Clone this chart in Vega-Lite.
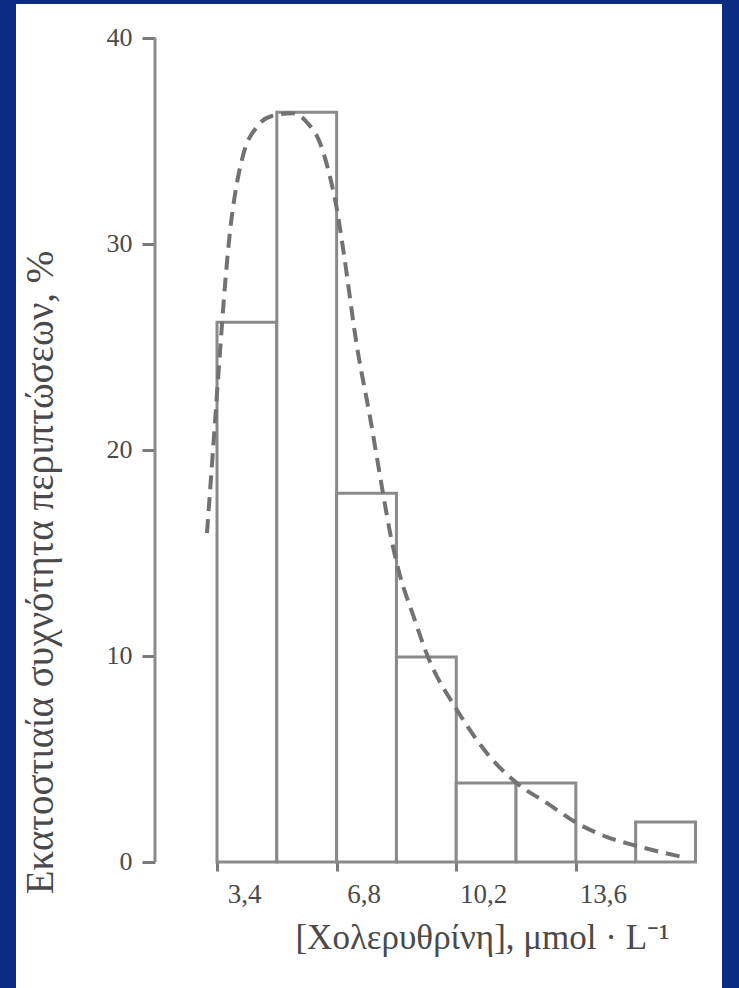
{
  "$schema": "https://vega.github.io/schema/vega-lite/v6.json",
  "width": 706,
  "height": 984,
  "autosize": {"type": "none"},
  "padding": {"left": 16, "top": 4, "right": 17, "bottom": 0},
  "background": "#0a2c82",
  "config": {
    "view": {"fill": "#ffffff", "stroke": null},
    "axis": {
      "labelFont": "Liberation Serif",
      "titleFont": "Liberation Serif",
      "labelColor": "#4a4a4a",
      "titleColor": "#4a4a4a",
      "titleFontWeight": "normal",
      "grid": false,
      "domain": false,
      "tickColor": "#7a7a7a",
      "tickWidth": 3,
      "labelOverlap": false,
      "labelFlush": false
    }
  },
  "datasets": {
    "bins": [
      {"lo": 3.4, "hi": 5.1, "pct": 26.2},
      {"lo": 5.1, "hi": 6.8, "pct": 36.4},
      {"lo": 6.8, "hi": 8.5, "pct": 17.9},
      {"lo": 8.5, "hi": 10.2, "pct": 9.95},
      {"lo": 10.2, "hi": 11.9, "pct": 3.83},
      {"lo": 11.9, "hi": 13.6, "pct": 3.83},
      {"lo": 13.6, "hi": 15.3, "pct": 0},
      {"lo": 15.3, "hi": 17.0, "pct": 1.94}
    ],
    "curve": [
      {"x": 3.115, "y": 15.97},
      {"x": 3.286, "y": 20.0},
      {"x": 3.457, "y": 24.1},
      {"x": 3.627, "y": 28.0},
      {"x": 3.769, "y": 30.6},
      {"x": 3.911, "y": 32.4},
      {"x": 4.139, "y": 34.3},
      {"x": 4.537, "y": 35.7},
      {"x": 4.935, "y": 36.2},
      {"x": 5.532, "y": 36.35},
      {"x": 5.958, "y": 35.9},
      {"x": 6.328, "y": 34.9},
      {"x": 6.612, "y": 33.25},
      {"x": 6.811, "y": 31.65},
      {"x": 6.981, "y": 29.8},
      {"x": 7.38, "y": 25.0},
      {"x": 7.749, "y": 21.6},
      {"x": 8.118, "y": 17.9},
      {"x": 8.317, "y": 16.0},
      {"x": 8.601, "y": 13.9},
      {"x": 8.971, "y": 12.0},
      {"x": 9.397, "y": 9.95},
      {"x": 10.222, "y": 7.38},
      {"x": 11.16, "y": 5.1},
      {"x": 11.92, "y": 3.83},
      {"x": 12.78, "y": 2.86},
      {"x": 13.63, "y": 1.89},
      {"x": 14.49, "y": 1.21},
      {"x": 15.22, "y": 0.83},
      {"x": 15.99, "y": 0.49},
      {"x": 16.76, "y": 0.19}
    ]
  },
  "layer": [
    {
      "data": {"name": "bins"},
      "mark": {"type": "rect", "fill": "#ffffff", "stroke": "#8a8a8a", "strokeWidth": 3},
      "encoding": {
        "x": {
          "field": "lo",
          "type": "quantitative",
          "scale": {"domain": [-2.314, 17.754], "nice": false, "zero": false},
          "axis": {
            "values": [3.4, 6.8, 10.2, 13.6],
            "offset": -126,
            "tickSize": 9,
            "labelPadding": 10,
            "labelFontSize": 27,
            "labelBaseline": "top",
            "labelOffset": 27,
            "labelExpr": "replace(format(datum.value, '.1f'), '.', ',')",
            "title": "[Χολερυθρίνη], μmol · L⁻¹",
            "titleFontSize": 35,
            "titleX": 466,
            "titleY": 86,
            "titleAlign": "center",
            "titleBaseline": "alphabetic"
          }
        },
        "x2": {"field": "hi"},
        "y": {
          "field": "pct",
          "type": "quantitative",
          "scale": {"domain": [-6.117, 41.65], "nice": false, "zero": false},
          "axis": {
            "values": [0, 10, 20, 30, 40],
            "offset": -139,
            "tickSize": 13,
            "labelPadding": 10,
            "labelFontSize": 26,
            "title": "Εκατοστιαία συχνότητα περιπτώσεων, %",
            "titleFontSize": 39,
            "titleAngle": -90,
            "titleX": -115,
            "titleY": 568,
            "titleAlign": "center",
            "titleBaseline": "middle"
          }
        },
        "y2": {"datum": 0}
      }
    },
    {
      "data": {"values": [{}]},
      "mark": {"type": "rule", "stroke": "#8a8a8a", "strokeWidth": 3},
      "encoding": {
        "x": {"datum": 1.637},
        "y": {"datum": 0},
        "y2": {"datum": 40}
      }
    },
    {
      "data": {"name": "curve"},
      "mark": {"type": "line", "interpolate": "monotone", "stroke": "#727272", "strokeWidth": 4, "strokeDash": [14, 8]},
      "encoding": {
        "x": {"field": "x", "type": "quantitative"},
        "y": {"field": "y", "type": "quantitative"}
      }
    }
  ]
}
